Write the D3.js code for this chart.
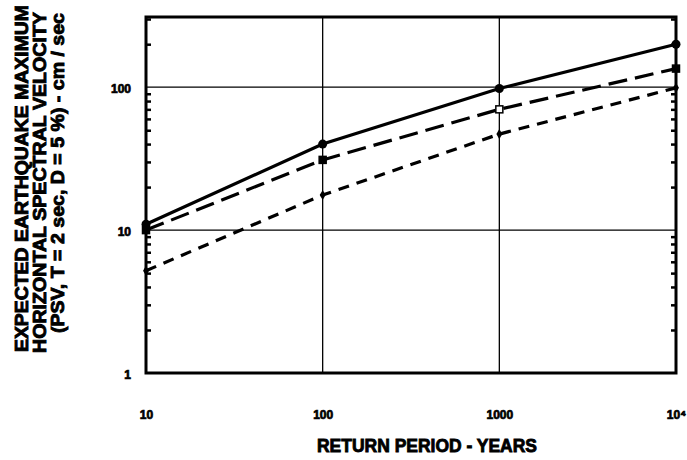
<!DOCTYPE html>
<html><head><meta charset="utf-8">
<script src="https://cdn.jsdelivr.net/npm/d3@7"></script>
<style>body{margin:0;background:#fff}svg{display:block}text{font-family:"Liberation Sans",Arial,sans-serif;font-weight:bold;fill:#000}</style>
</head><body>
<script>
const returnPeriods = [10, 100, 1000, 10000];
const solidSeries = [11, 40, 98, 200];
const longDashSeries = [10, 31, 70, 135];
const shortDashSeries = [5.2, 17.6, 47, 99];
const xTickValues = [10, 100, 1000, 10000];
const xTickLabels = ["10", "100", "1000", "10⁴"];
const yTickValues = [1, 10, 100];
const yTickLabels = ["1", "10", "100"];
const yTitleLines = ["EXPECTED EARTHQUAKE MAXIMUM", "HORIZONTAL SPECTRAL VELOCITY", "(PSV, T = 2 sec, D = 5 %) - cm / sec"];
const xTitle = "RETURN PERIOD - YEARS";

const W = 687, H = 460;
const L = 146, R = 676, T = 17, B = 373;
const svg = d3.select("body").append("svg").attr("width", W).attr("height", H);
const x = d3.scaleLog().domain([10, 10000]).range([L, R]);
const y = d3.scaleLog().domain([1, 310]).range([B, T]);

// gridlines
const g = svg.append("g");
g.selectAll(".gx").data([100, 1000]).enter().append("line")
  .attr("x1", d => x(d)).attr("x2", d => x(d)).attr("y1", T).attr("y2", B)
  .attr("stroke", "#000").attr("stroke-width", 1.3);
g.selectAll(".gy").data([10, 100]).enter().append("line")
  .attr("y1", d => y(d)).attr("y2", d => y(d)).attr("x1", L).attr("x2", R)
  .attr("stroke", "#000").attr("stroke-width", 1.3);

// minor ticks (inside) on left and right
const minor = [];
for (let dec = 1; dec <= 100; dec *= 10) for (let m = 2; m <= 9; m++) { const v = dec * m; if (v < 310) minor.push(v); }
const leftAxis = d3.axisRight(y).tickValues(minor).tickSize(5).tickFormat("");
svg.append("g").attr("transform", `translate(${L},0)`).call(leftAxis)
  .call(s => s.select(".domain").remove())
  .selectAll("line").attr("stroke-width", 2.5);
const rightAxis = d3.axisLeft(y).tickValues(minor).tickSize(5).tickFormat("");
svg.append("g").attr("transform", `translate(${R},0)`).call(rightAxis)
  .call(s => s.select(".domain").remove())
  .selectAll("line").attr("stroke-width", 2.5);

// frame
svg.append("rect").attr("x", L).attr("y", T).attr("width", R - L).attr("height", B - T)
  .attr("fill", "none").attr("stroke", "#000").attr("stroke-width", 3);

// tick labels via axes
const xAxis = d3.axisBottom(x).tickValues(xTickValues).tickSize(0)
  .tickFormat((d, i) => xTickLabels[i]);
const xg = svg.append("g").attr("transform", `translate(0,${B})`).call(xAxis);
xg.select(".domain").remove();
xg.selectAll("text").attr("y", 0).attr("dy", "46px").attr("font-size", 12)
  .style("font-family", '"Liberation Sans",Arial,sans-serif').style("font-weight", "bold")
  .attr("fill", "#000").attr("stroke", "#000").attr("stroke-width", 0.7);

const yAxis = d3.axisLeft(y).tickValues(yTickValues).tickSize(0)
  .tickFormat((d, i) => yTickLabels[i]);
const yg = svg.append("g").attr("transform", `translate(${L},0)`).call(yAxis);
yg.select(".domain").remove();
yg.selectAll("text").attr("x", -15).attr("dy", "5px").attr("font-size", 12)
  .style("font-family", '"Liberation Sans",Arial,sans-serif').style("font-weight", "bold")
  .attr("fill", "#000").attr("stroke", "#000").attr("stroke-width", 0.7);

// lines
const line = d3.line().x(d => x(d[0])).y(d => y(d[1]));
const series = [
  {vals: solidSeries, dash: null},
  {vals: longDashSeries, dash: "19,8"},
  {vals: shortDashSeries, dash: "11,8"}
];
series.forEach(s => {
  svg.append("path").datum(returnPeriods.map((p, i) => [p, s.vals[i]]))
    .attr("d", line).attr("fill", "none").attr("stroke", "#000").attr("stroke-width", 3.2)
    .attr("stroke-dasharray", s.dash);
});

// markers
svg.selectAll(".m1").data(solidSeries).enter().append("circle")
  .attr("cx", (d, i) => x(returnPeriods[i])).attr("cy", d => y(d)).attr("r", 4.5).attr("fill", "#000");
const openLong = [false, false, true, false];
svg.selectAll(".m2").data(longDashSeries).enter().append("rect")
  .attr("x", (d, i) => x(returnPeriods[i]) - 3.5).attr("y", d => y(d) - 3.5)
  .attr("width", 7).attr("height", 7)
  .attr("fill", (d, i) => openLong[i] ? "#fff" : "#000").attr("stroke", "#000").attr("stroke-width", 1.5);
svg.selectAll(".m3").data(shortDashSeries).enter().append("path")
  .attr("d", (d, i) => d3.symbol(d3.symbolDiamond, 30)())
  .attr("transform", (d, i) => `translate(${x(returnPeriods[i])},${y(d)})`).attr("fill", "#000");

// titles
svg.append("text").attr("x", 427).attr("y", 452).attr("text-anchor", "middle")
  .attr("font-size", 19).attr("textLength", 220).attr("lengthAdjust", "spacingAndGlyphs")
  .attr("stroke", "#000").attr("stroke-width", 0.9).text(xTitle);
const tl = [{cx: 28, y0: 352, len: 347}, {cx: 46, y0: 353, len: 341}, {cx: 64, y0: 333, len: 320}];
yTitleLines.forEach((t, i) => {
  svg.append("text").attr("transform", `translate(${tl[i].cx},${tl[i].y0}) rotate(-90)`)
    .attr("font-size", 19).attr("textLength", tl[i].len).attr("lengthAdjust", "spacingAndGlyphs")
    .attr("stroke", "#000").attr("stroke-width", 0.9).text(t);
});
</script>
</body></html>
